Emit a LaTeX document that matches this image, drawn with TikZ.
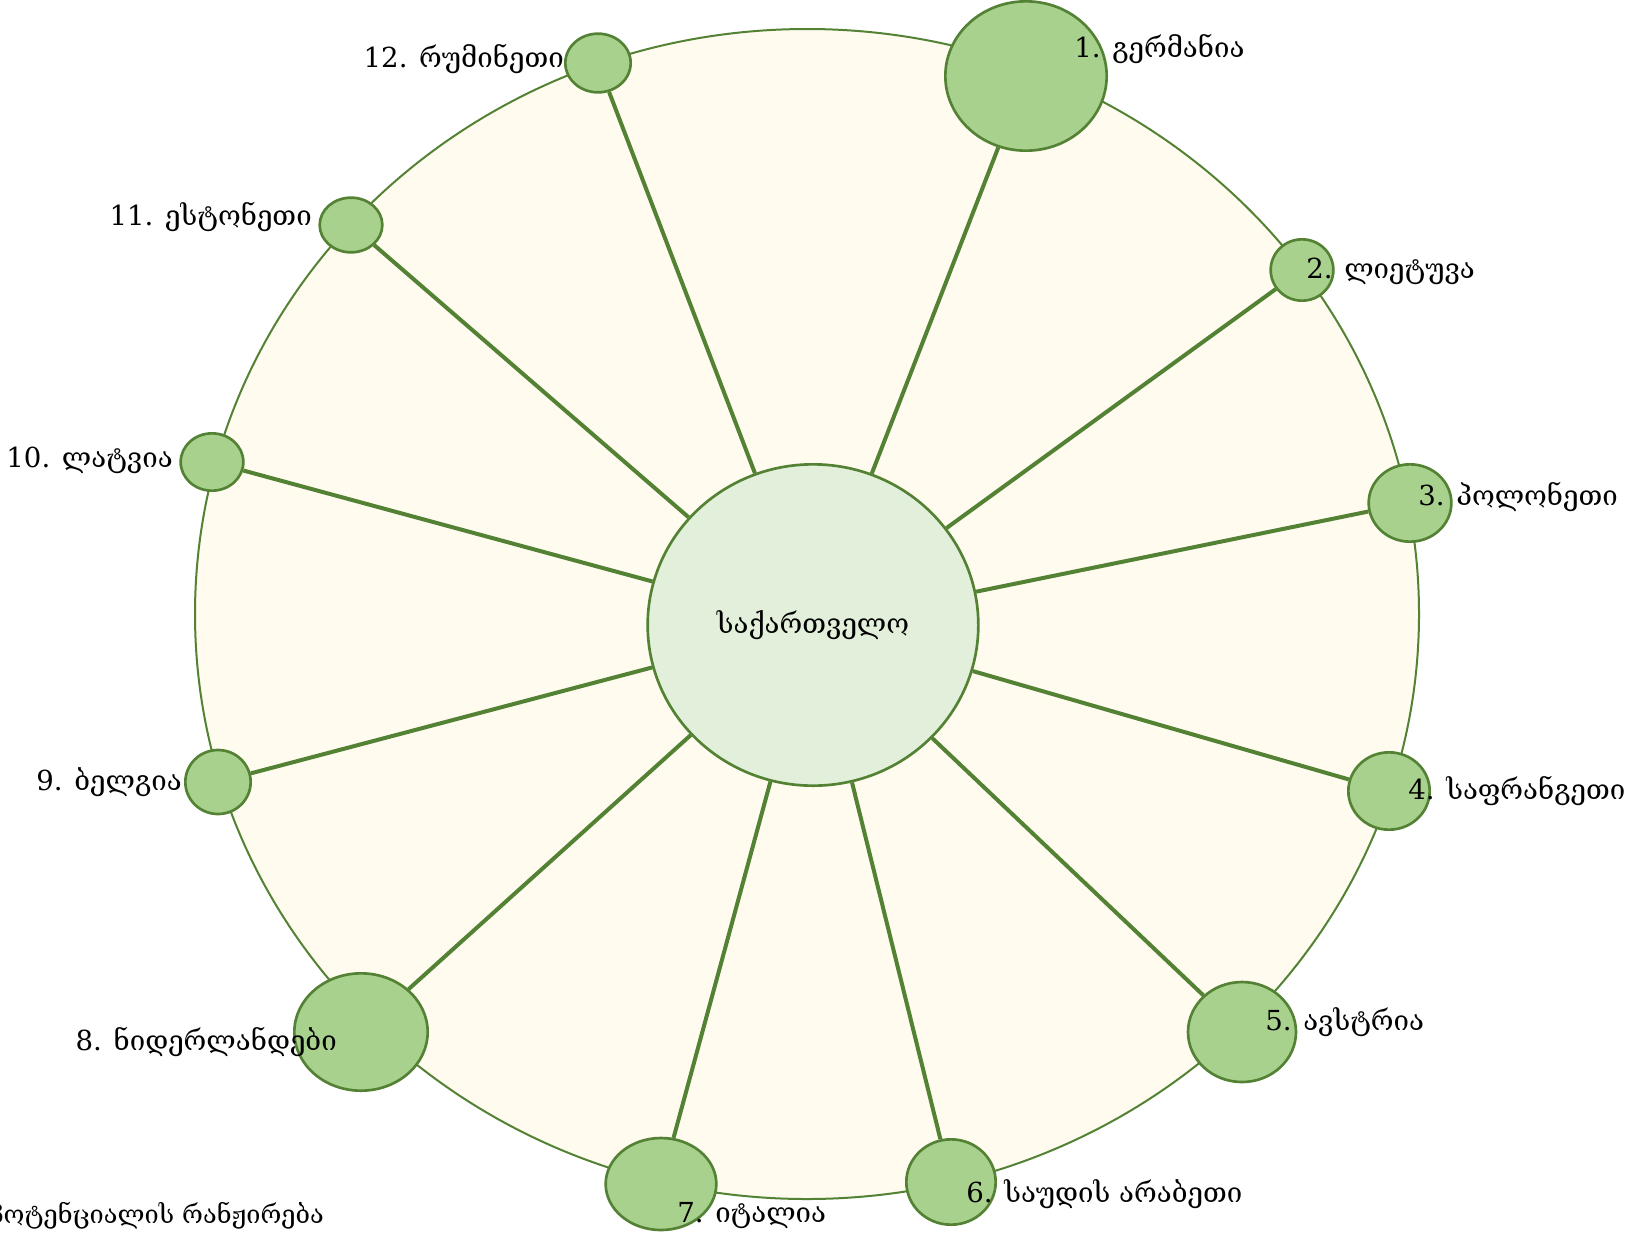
\documentclass[tikz,border=0pt]{standalone}
\usepackage{fontspec}
\setmainfont{DejaVu Serif}
\usetikzlibrary{positioning,shapes.geometric}
\definecolor{ringgreen}{HTML}{548235}
\definecolor{nodegreen}{HTML}{A9D18E}
\definecolor{coregreen}{HTML}{E2EFDA}
\definecolor{ringfill}{HTML}{FFFBEF}
\tikzset{
    % Node styles
    country/.style={ellipse, draw=ringgreen, line width=2pt, fill=nodegreen, inner sep=0pt},
    core/.style={ellipse, draw=ringgreen, line width=2pt, fill=coregreen, inner sep=0pt,
                 minimum width=248pt, minimum height=241pt, font=\fontsize{20.7}{24}\selectfont},
    % Line styles
    ring/.style={draw=ringgreen, line width=1.5pt, fill=ringfill},
    spoke/.style={draw=ringgreen, line width=3pt},
    % Text styles
    tag/.style={font=\fontsize{20.7}{24}\selectfont, inner sep=0pt},
}

\begin{document}
\begin{tikzpicture}[x=0.75pt, y=-0.75pt]
    \useasboundingbox (0,0) rectangle (1626,1240);

    % Ring
    \draw[ring] (807,614) ellipse [x radius=612, y radius=585];

    % Nodes
    \node[core] (georgia) at (813,625) {საქართველო};
    \node[country, minimum width=121pt, minimum height=112pt] (germany) at (1026,76) {};
    \node[country, minimum width=47pt, minimum height=46pt] (lithuania) at (1302,270) {};
    \node[country, minimum width=62pt, minimum height=58pt] (poland) at (1410,503) {};
    \node[country, minimum width=61pt, minimum height=58pt] (france) at (1389,791) {};
    \node[country, minimum width=81pt, minimum height=75pt] (austria) at (1242,1032) {};
    \node[country, minimum width=67pt, minimum height=64pt] (saudi) at (951,1182) {};
    \node[country, minimum width=83pt, minimum height=69pt] (italy) at (661,1184) {};
    \node[country, minimum width=100pt, minimum height=88pt] (netherlands) at (361,1032) {};
    \node[country, minimum width=49pt, minimum height=48pt] (belgium) at (218,782) {};
    \node[country, minimum width=47pt, minimum height=43pt] (latvia) at (212,462) {};
    \node[country, minimum width=47pt, minimum height=41pt] (estonia) at (351,225) {};
    \node[country, minimum width=49pt, minimum height=44pt] (romania) at (598,63) {};

    % Spokes
    \foreach \c in {germany,lithuania,poland,france,austria,saudi,
                    italy,netherlands,belgium,latvia,estonia,romania}
        \draw[spoke] (georgia) -- (\c);

    % Labels
    \node[tag, anchor=base west] (tag-germany) at (1074,57) {1. გერმანია};
    \node[tag, anchor=base west] (tag-lithuania) at (1306,278) {2. ლიეტუვა};
    \node[tag, anchor=base west] (tag-poland) at (1418,505) {3. პოლონეთი};
    \node[tag, anchor=base west] (tag-france) at (1408,799) {4. საფრანგეთი};
    \node[tag, anchor=base west] (tag-austria) at (1265,1030) {5. ავსტრია};
    \node[tag, anchor=base west] (tag-saudi) at (966,1202) {6. საუდის არაბეთი};
    \node[tag, anchor=base west] (tag-italy) at (677,1222) {7. იტალია};
    \node[tag, anchor=base east] (tag-netherlands) at (337,1050) {8. ნიდერლანდები};
    \node[tag, anchor=base east] (tag-belgium) at (182,790) {9. ბელგია};
    \node[tag, anchor=base east] (tag-latvia) at (173,467) {10. ლატვია};
    \node[tag, anchor=base east] (tag-estonia) at (312,225) {11. ესტონეთი};
    \node[tag, anchor=base east] (tag-romania) at (564,67) {12. რუმინეთი};
    \node[tag, font=\fontsize{19}{22}\selectfont, anchor=base east] (caption) at (324,1223) {პოტენციალის რანჟირება};
\end{tikzpicture}
\end{document}
